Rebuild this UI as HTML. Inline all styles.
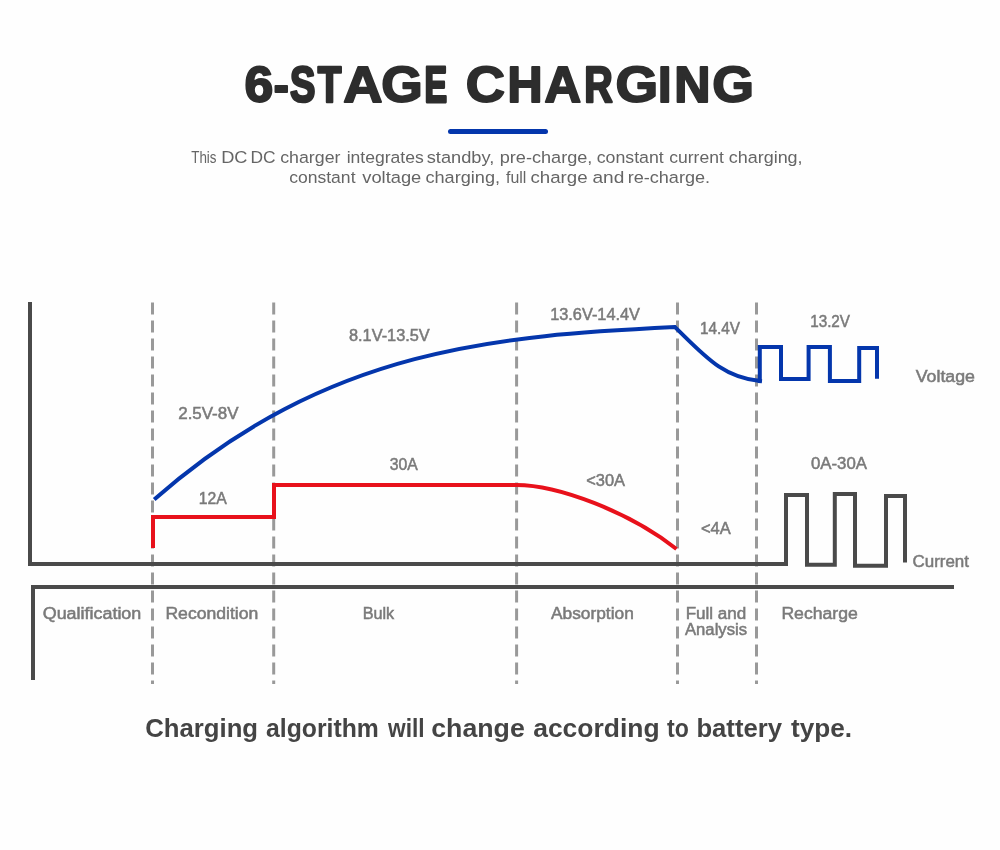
<!DOCTYPE html>
<html><head><meta charset="utf-8"><style>
html,body{margin:0;padding:0;background:#fff;width:1000px;height:850px;overflow:hidden}
svg{display:block;will-change:transform}
text{font-family:"Liberation Sans",sans-serif}
</style></head><body>
<svg width="1000" height="850" viewBox="0 0 1000 850">
<rect width="1000" height="850" fill="#fefefe"/>
<rect x="448" y="129" width="100" height="5" rx="2.5" fill="#0436ac"/>
<g stroke="#999" stroke-width="3" stroke-dasharray="12 6" stroke-dashoffset="-0.5"><line x1="152.5" y1="302" x2="152.5" y2="684"/><line x1="273.7" y1="302" x2="273.7" y2="684"/><line x1="516.6" y1="302" x2="516.6" y2="684"/><line x1="677.5" y1="302" x2="677.5" y2="684"/><line x1="756.5" y1="302" x2="756.5" y2="684"/></g>
<path d="M30,302 V564 H786 V495 H807 V564.8 H834.8 V494 H855 V565.8 H886 V496 H905 V562.5" fill="none" stroke="#4a4a4a" stroke-width="4" stroke-linejoin="miter"/>
<path d="M33,680 V587 H954" fill="none" stroke="#4a4a4a" stroke-width="4" stroke-linejoin="miter"/>
<path d="M153,548 V517 H274 V485 H516.5 C557.2,485 629.1,511.5 676.5,549" fill="none" stroke="#e8111b" stroke-width="4" stroke-linejoin="miter"/>
<path d="M154.2,499.5 C327.8,346.6 501.4,335.7 675,327.1 C704.5,355.7 722.4,377.4 760,381 L759.8,383 V347 H781 V379 H808.6 V347 H829.9 V381 H859.2 V348 H877 V378.8" fill="none" stroke="#0436ac" stroke-width="4" stroke-linejoin="miter"/>
<text transform="translate(244.41,101.75) scale(1.0465,1)" font-size="49.42" font-weight="bold" fill="#2d2d2d" stroke="#2d2d2d" stroke-width="1.91" stroke-linejoin="round">6</text><text transform="translate(273.73,101.75) scale(0.9165,1)" font-size="49.42" font-weight="bold" fill="#2d2d2d" stroke="#2d2d2d" stroke-width="2.18" stroke-linejoin="round">-</text><text transform="translate(290.10,101.75) scale(0.7701,1)" font-size="49.42" font-weight="bold" fill="#2d2d2d" stroke="#2d2d2d" stroke-width="2.60" stroke-linejoin="round">S</text><text transform="translate(317.77,101.75) scale(0.7835,1)" font-size="49.42" font-weight="bold" fill="#2d2d2d" stroke="#2d2d2d" stroke-width="2.55" stroke-linejoin="round">T</text><text transform="translate(343.15,101.75) scale(1.1009,1)" font-size="49.42" font-weight="bold" fill="#2d2d2d" stroke="#2d2d2d" stroke-width="1.82" stroke-linejoin="round">A</text><text transform="translate(381.31,101.75) scale(1.0795,1)" font-size="49.42" font-weight="bold" fill="#2d2d2d" stroke="#2d2d2d" stroke-width="1.85" stroke-linejoin="round">G</text><text transform="translate(424.43,101.75) scale(0.6853,1)" font-size="49.42" font-weight="bold" fill="#2d2d2d" stroke="#2d2d2d" stroke-width="2.92" stroke-linejoin="round">E</text><text transform="translate(465.77,101.75) scale(1.0987,1)" font-size="49.42" font-weight="bold" fill="#2d2d2d" stroke="#2d2d2d" stroke-width="1.82" stroke-linejoin="round">C</text><text transform="translate(507.46,101.75) scale(0.9810,1)" font-size="49.42" font-weight="bold" fill="#2d2d2d" stroke="#2d2d2d" stroke-width="2.04" stroke-linejoin="round">H</text><text transform="translate(544.44,101.75) scale(1.0255,1)" font-size="49.42" font-weight="bold" fill="#2d2d2d" stroke="#2d2d2d" stroke-width="1.95" stroke-linejoin="round">A</text><text transform="translate(584.37,101.75) scale(0.7969,1)" font-size="49.42" font-weight="bold" fill="#2d2d2d" stroke="#2d2d2d" stroke-width="2.51" stroke-linejoin="round">R</text><text transform="translate(615.45,101.75) scale(1.1095,1)" font-size="49.42" font-weight="bold" fill="#2d2d2d" stroke="#2d2d2d" stroke-width="1.80" stroke-linejoin="round">G</text><text transform="translate(657.95,101.75) scale(0.9833,1)" font-size="49.42" font-weight="bold" fill="#2d2d2d" stroke="#2d2d2d" stroke-width="2.03" stroke-linejoin="round">I</text><text transform="translate(674.34,101.75) scale(1.0154,1)" font-size="49.42" font-weight="bold" fill="#2d2d2d" stroke="#2d2d2d" stroke-width="1.97" stroke-linejoin="round">N</text><text transform="translate(712.30,101.75) scale(1.0855,1)" font-size="49.42" font-weight="bold" fill="#2d2d2d" stroke="#2d2d2d" stroke-width="1.84" stroke-linejoin="round">G</text>
<text x="191.24" y="162.80" font-size="17.4" font-weight="normal" fill="#656565" textLength="25.28" lengthAdjust="spacingAndGlyphs">This</text><text x="221.20" y="162.80" font-size="17.4" font-weight="normal" fill="#656565" textLength="26.36" lengthAdjust="spacingAndGlyphs">DC</text><text x="250.44" y="162.80" font-size="17.4" font-weight="normal" fill="#656565" textLength="25.12" lengthAdjust="spacingAndGlyphs">DC</text><text x="280.22" y="162.80" font-size="17.4" font-weight="normal" fill="#656565" textLength="60.26" lengthAdjust="spacingAndGlyphs">charger</text><text x="346.70" y="162.80" font-size="17.4" font-weight="normal" fill="#656565" textLength="77.10" lengthAdjust="spacingAndGlyphs">integrates</text><text x="426.70" y="162.80" font-size="17.4" font-weight="normal" fill="#656565" textLength="67.62" lengthAdjust="spacingAndGlyphs">standby,</text><text x="499.72" y="162.80" font-size="17.4" font-weight="normal" fill="#656565" textLength="92.64" lengthAdjust="spacingAndGlyphs">pre-charge,</text><text x="596.72" y="162.80" font-size="17.4" font-weight="normal" fill="#656565" textLength="67.04" lengthAdjust="spacingAndGlyphs">constant</text><text x="669.20" y="162.80" font-size="17.4" font-weight="normal" fill="#656565" textLength="54.56" lengthAdjust="spacingAndGlyphs">current</text><text x="728.72" y="162.80" font-size="17.4" font-weight="normal" fill="#656565" textLength="73.88" lengthAdjust="spacingAndGlyphs">charging,</text><text x="289.20" y="182.80" font-size="17.4" font-weight="normal" fill="#656565" textLength="66.32" lengthAdjust="spacingAndGlyphs">constant</text><text x="362.24" y="182.80" font-size="17.4" font-weight="normal" fill="#656565" textLength="59.04" lengthAdjust="spacingAndGlyphs">voltage</text><text x="425.44" y="182.80" font-size="17.4" font-weight="normal" fill="#656565" textLength="74.64" lengthAdjust="spacingAndGlyphs">charging,</text><text x="506.00" y="182.80" font-size="17.4" font-weight="normal" fill="#656565" textLength="20.32" lengthAdjust="spacingAndGlyphs">full</text><text x="530.48" y="182.80" font-size="17.4" font-weight="normal" fill="#656565" textLength="57.08" lengthAdjust="spacingAndGlyphs">charge</text><text x="592.48" y="182.80" font-size="17.4" font-weight="normal" fill="#656565" textLength="31.84" lengthAdjust="spacingAndGlyphs">and</text><text x="627.68" y="182.80" font-size="17.4" font-weight="normal" fill="#656565" textLength="82.40" lengthAdjust="spacingAndGlyphs">re-charge.</text><text x="178.22" y="419.40" font-size="16" font-weight="normal" fill="#7a7a7a" stroke="#7a7a7a" stroke-width="0.5" textLength="60.26" lengthAdjust="spacingAndGlyphs">2.5V-8V</text><text x="198.70" y="504.40" font-size="16" font-weight="normal" fill="#7a7a7a" stroke="#7a7a7a" stroke-width="0.5" textLength="28.06" lengthAdjust="spacingAndGlyphs">12A</text><text x="348.98" y="340.70" font-size="16" font-weight="normal" fill="#7a7a7a" stroke="#7a7a7a" stroke-width="0.5" textLength="80.76" lengthAdjust="spacingAndGlyphs">8.1V-13.5V</text><text x="389.72" y="470.00" font-size="16" font-weight="normal" fill="#7a7a7a" stroke="#7a7a7a" stroke-width="0.5" textLength="28.00" lengthAdjust="spacingAndGlyphs">30A</text><text x="550.20" y="319.70" font-size="16" font-weight="normal" fill="#7a7a7a" stroke="#7a7a7a" stroke-width="0.5" textLength="89.80" lengthAdjust="spacingAndGlyphs">13.6V-14.4V</text><text x="586.22" y="485.60" font-size="16" font-weight="normal" fill="#7a7a7a" stroke="#7a7a7a" stroke-width="0.5" textLength="38.78" lengthAdjust="spacingAndGlyphs">&lt;30A</text><text x="699.96" y="334.00" font-size="16" font-weight="normal" fill="#7a7a7a" stroke="#7a7a7a" stroke-width="0.5" textLength="40.04" lengthAdjust="spacingAndGlyphs">14.4V</text><text x="700.98" y="534.20" font-size="16" font-weight="normal" fill="#7a7a7a" stroke="#7a7a7a" stroke-width="0.5" textLength="29.78" lengthAdjust="spacingAndGlyphs">&lt;4A</text><text x="810.20" y="326.60" font-size="16" font-weight="normal" fill="#7a7a7a" stroke="#7a7a7a" stroke-width="0.5" textLength="39.80" lengthAdjust="spacingAndGlyphs">13.2V</text><text x="811.00" y="469.30" font-size="16" font-weight="normal" fill="#7a7a7a" stroke="#7a7a7a" stroke-width="0.5" textLength="56.00" lengthAdjust="spacingAndGlyphs">0A-30A</text><text x="915.76" y="382.40" font-size="16" font-weight="normal" fill="#7a7a7a" stroke="#7a7a7a" stroke-width="0.5" textLength="59.24" lengthAdjust="spacingAndGlyphs">Voltage</text><text x="912.50" y="566.80" font-size="16" font-weight="normal" fill="#7a7a7a" stroke="#7a7a7a" stroke-width="0.5" textLength="56.48" lengthAdjust="spacingAndGlyphs">Current</text><text x="42.72" y="618.70" font-size="16" font-weight="normal" fill="#7a7a7a" stroke="#7a7a7a" stroke-width="0.5" textLength="98.58" lengthAdjust="spacingAndGlyphs">Qualification</text><text x="165.42" y="618.90" font-size="16" font-weight="normal" fill="#7a7a7a" stroke="#7a7a7a" stroke-width="0.5" textLength="92.88" lengthAdjust="spacingAndGlyphs">Recondition</text><text x="362.68" y="618.90" font-size="16" font-weight="normal" fill="#7a7a7a" stroke="#7a7a7a" stroke-width="0.5" textLength="31.56" lengthAdjust="spacingAndGlyphs">Bulk</text><text x="551.00" y="618.70" font-size="16" font-weight="normal" fill="#7a7a7a" stroke="#7a7a7a" stroke-width="0.5" textLength="82.78" lengthAdjust="spacingAndGlyphs">Absorption</text><text x="685.70" y="618.50" font-size="16" font-weight="normal" fill="#7a7a7a" stroke="#7a7a7a" stroke-width="0.5" textLength="60.60" lengthAdjust="spacingAndGlyphs">Full and</text><text x="685.00" y="634.50" font-size="16" font-weight="normal" fill="#7a7a7a" stroke="#7a7a7a" stroke-width="0.5" textLength="62.00" lengthAdjust="spacingAndGlyphs">Analysis</text><text x="781.42" y="618.70" font-size="16" font-weight="normal" fill="#7a7a7a" stroke="#7a7a7a" stroke-width="0.5" textLength="76.36" lengthAdjust="spacingAndGlyphs">Recharge</text><text x="145.20" y="737.00" font-size="26" font-weight="bold" fill="#444" textLength="112.90" lengthAdjust="spacingAndGlyphs">Charging</text><text x="266.00" y="737.00" font-size="26" font-weight="bold" fill="#444" textLength="112.80" lengthAdjust="spacingAndGlyphs">algorithm</text><text x="388.00" y="737.00" font-size="26" font-weight="bold" fill="#444" textLength="36.60" lengthAdjust="spacingAndGlyphs">will</text><text x="431.20" y="737.00" font-size="26" font-weight="bold" fill="#444" textLength="93.60" lengthAdjust="spacingAndGlyphs">change</text><text x="533.20" y="737.00" font-size="26" font-weight="bold" fill="#444" textLength="126.40" lengthAdjust="spacingAndGlyphs">according</text><text x="667.00" y="737.00" font-size="26" font-weight="bold" fill="#444" textLength="21.80" lengthAdjust="spacingAndGlyphs">to</text><text x="696.40" y="737.00" font-size="26" font-weight="bold" fill="#444" textLength="85.60" lengthAdjust="spacingAndGlyphs">battery</text><text x="791.00" y="737.00" font-size="26" font-weight="bold" fill="#444" textLength="61.10" lengthAdjust="spacingAndGlyphs">type.</text>
</svg>
</body></html>
